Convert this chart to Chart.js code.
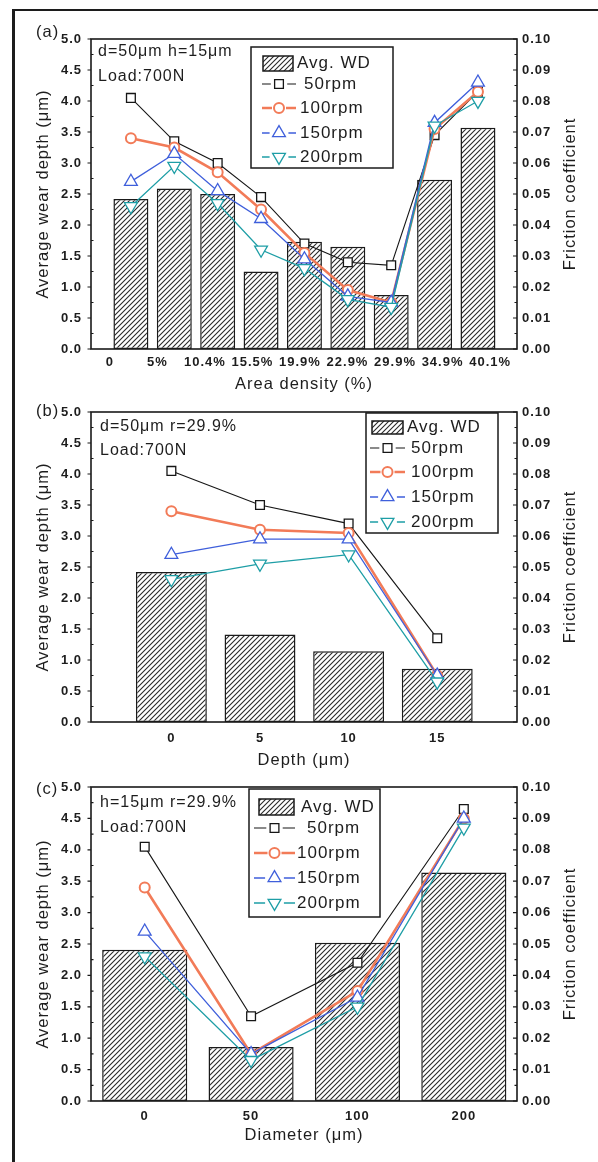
<!DOCTYPE html>
<html>
<head>
<meta charset="utf-8">
<script src="https://cdn.jsdelivr.net/npm/chart.js@4.4.1/dist/chart.umd.min.js"></script>
<style>
  html, body { margin: 0; padding: 0; background: #fff; }
  #page { position: relative; width: 598px; height: 1162px; overflow: hidden; background: #fff; }
  #frame { position: absolute; left: 12px; top: 9px; width: 700px; height: 1300px;
           border-left: 3px solid #1c1c1c; border-top: 2px solid #1c1c1c; }
  canvas { position: absolute; left: 0; top: 0; }
</style>
</head>
<body>
<div id="page">
  <div id="frame"></div>
  <canvas id="chartA" width="598" height="1162"></canvas>
  <canvas id="chartB" width="598" height="1162"></canvas>
  <canvas id="chartC" width="598" height="1162"></canvas>
</div>
<script>
// ---- data: (a) texture area density ----
const areaLabels = ['0', '5%', '10.4%', '15.5%', '19.9%', '22.9%', '29.9%', '34.9%', '40.1%'];
const areaWD     = [2.42, 2.59, 2.50, 1.25, 1.73, 1.65, 0.87, 2.73, 3.57];
const areaF50    = [0.081, 0.067, 0.060, 0.049, 0.034, 0.028, 0.027, 0.069, 0.083];
const areaF100   = [0.068, 0.065, 0.057, 0.045, 0.031, 0.019, 0.015, 0.071, 0.083];
const areaF150   = [0.054, 0.063, 0.051, 0.042, 0.029, 0.017, 0.015, 0.073, 0.086];
const areaF200   = [0.046, 0.059, 0.047, 0.032, 0.026, 0.016, 0.0135, 0.072, 0.080];

// ---- data: (b) dimple depth ----
const depthLabels = ['0', '5', '10', '15'];
const depthWD     = [2.42, 1.41, 1.14, 0.86];
const depthF50    = [0.081, 0.070, 0.064, 0.027];
const depthF100   = [0.068, 0.062, 0.061, 0.015];
const depthF150   = [0.054, 0.059, 0.059, 0.015];
const depthF200   = [0.046, 0.051, 0.054, 0.013];

// ---- data: (c) dimple diameter ----
const diamLabels = ['0', '50', '100', '200'];
const diamWD     = [2.41, 0.86, 2.52, 3.64];
const diamF50    = [0.081, 0.027, 0.044, 0.093];
const diamF100   = [0.068, 0.015, 0.035, 0.090];
const diamF150   = [0.054, 0.015, 0.033, 0.090];
const diamF200   = [0.046, 0.013, 0.030, 0.087];

const seriesNames = ['50rpm', '100rpm', '150rpm', '200rpm'];
const barName = 'Avg. WD';

// ---- styling ----
const FONT = '"Liberation Sans", Arial, sans-serif';
const TEXT = '#1d1d1d';
const AXIS = '#1a1a1a';
const SPACING = '1px';
const PLOT_LEFT = 91, PLOT_RIGHT = 517, PAGE_W = 598, PAGE_H = 1162;

const seriesStyle = [
  { color: '#161616', width: 1.1, pointStyle: 'rect',     radius: 6.2, rotation: 0,   pbw: 1.3 },
  { color: '#f27b58', width: 2.6, pointStyle: 'circle',   radius: 5.0, rotation: 0,   pbw: 2.0 },
  { color: '#3f5fdb', width: 1.3, pointStyle: 'triangle', radius: 7.4, rotation: 0,   pbw: 1.3 },
  { color: '#1e9ea6', width: 1.3, pointStyle: 'triangle', radius: 7.4, rotation: 180, pbw: 1.3 }
];

// diagonal hatch tile for the wear-depth bars
const hatchTile = (() => {
  const s = 5;
  const c = document.createElement('canvas');
  c.width = s; c.height = s;
  const g = c.getContext('2d');
  g.fillStyle = '#fff';
  g.fillRect(0, 0, s, s);
  g.strokeStyle = '#2a2a2a';
  g.lineWidth = 1.1;
  g.beginPath();
  g.moveTo(0, s); g.lineTo(s, 0);
  g.moveTo(-1, 1); g.lineTo(1, -1);
  g.moveTo(s - 1, s + 1); g.lineTo(s + 1, s - 1);
  g.stroke();
  return c;
})();

function setText(ctx, size, weight) {
  ctx.font = (weight || 'normal') + ' ' + size + 'px ' + FONT;
  ctx.fillStyle = TEXT;
}

// frame, tick marks, legend box, notes and right-hand title
const decor = {
  id: 'decor',
  beforeUpdate(chart) { chart.ctx.letterSpacing = SPACING; },
  beforeDraw(chart) { chart.ctx.letterSpacing = SPACING; },
  afterDatasetsDraw(chart, args, o) {
    const { ctx, chartArea: a, scales } = chart;
    ctx.save();
    ctx.letterSpacing = SPACING;

    // plot frame
    ctx.strokeStyle = AXIS;
    ctx.lineWidth = 1.6;
    ctx.strokeRect(a.left, a.top, a.right - a.left, a.bottom - a.top);

    // tick marks
    ctx.lineWidth = 1.2;
    ctx.beginPath();
    const y = scales.y, y2 = scales.y2;
    for (let k = 0; k <= 20; k++) {
      const p = y.getPixelForValue(k * 0.25);
      if (k % 2 === 0) { ctx.moveTo(a.left - 3.5, p); ctx.lineTo(a.left, p); }
      else { ctx.moveTo(a.left, p); ctx.lineTo(a.left + 2.5, p); }
      const q = y2.getPixelForValue(k * 0.005);
      ctx.moveTo(a.right - (k % 2 === 0 ? 4 : 2.5), q); ctx.lineTo(a.right, q);
    }
    ctx.stroke();

    // right axis title, reading bottom to top
    setText(ctx, 16.5);
    ctx.save();
    ctx.translate(o.rightTitleX, (a.top + a.bottom) / 2);
    ctx.rotate(-Math.PI / 2);
    ctx.textAlign = 'center';
    ctx.textBaseline = 'middle';
    ctx.fillText(o.rightTitle, 0, 0);
    ctx.restore();

    // panel tag and condition notes
    ctx.textAlign = 'left';
    ctx.textBaseline = 'middle';
    setText(ctx, 16.5);
    ctx.fillText(o.tag.text, o.tag.x, o.tag.y);
    setText(ctx, 16);
    o.notes.forEach(n => ctx.fillText(n.text, n.x, n.y));

    // legend
    const L = o.legend;
    ctx.fillStyle = '#fff';
    ctx.fillRect(L.box[0], L.box[1], L.box[2], L.box[3]);
    ctx.strokeStyle = AXIS;
    ctx.lineWidth = 1.5;
    ctx.strokeRect(L.box[0], L.box[1], L.box[2], L.box[3]);

    const ds = chart.data.datasets;
    ctx.fillStyle = ctx.createPattern(hatchTile, 'repeat');
    ctx.fillRect(L.hatch[0], L.hatch[1], L.hatch[2], L.hatch[3]);
    ctx.strokeRect(L.hatch[0], L.hatch[1], L.hatch[2], L.hatch[3]);
    setText(ctx, 17);
    ctx.fillText(ds[0].label, L.textX[0], L.rows[0]);

    for (let k = 1; k < ds.length; k++) {
      const d = ds[k];
      const cy = L.rows[k];
      const cx = (L.swatch[0] + L.swatch[1]) / 2;
      const r = d.pointRadius;
      ctx.strokeStyle = d.borderColor;
      ctx.lineWidth = d.borderWidth;
      ctx.beginPath();
      ctx.moveTo(L.swatch[0], cy); ctx.lineTo(cx - r - 2, cy);
      ctx.moveTo(cx + r + 2, cy); ctx.lineTo(L.swatch[1], cy);
      ctx.stroke();
      ctx.fillStyle = '#fff';
      ctx.lineWidth = d.pointBorderWidth;
      Chart.helpers.drawPoint(ctx, {
        pointStyle: d.pointStyle, rotation: d.pointRotation, radius: r, borderWidth: d.pointBorderWidth
      }, cx, cy);
      setText(ctx, 17);
      ctx.fillText(d.label, L.textX[k], cy);
    }
    ctx.restore();
  }
};

function buildPanel(canvasId, P) {
  const ctx = document.getElementById(canvasId).getContext('2d');
  const pattern = ctx.createPattern(hatchTile, 'repeat');
  const indexTicks = s => { s.ticks = P.cats.map((_, i) => ({ value: i })); };
  const datasets = [{
    type: 'bar', label: barName,
    data: P.wd.map((v, i) => ({ x: i, y: v })),
    xAxisID: 'x', yAxisID: 'y',
    backgroundColor: pattern, borderColor: AXIS, borderWidth: 1.5, borderSkipped: false,
    barPercentage: P.barPct, categoryPercentage: 1, order: 10
  }];
  P.friction.forEach((vals, k) => {
    const s = seriesStyle[k];
    datasets.push({
      type: 'line', label: seriesNames[k],
      data: vals.map((v, i) => ({ x: i, y: v })),
      xAxisID: 'x', yAxisID: 'y2',
      borderColor: s.color, borderWidth: s.width,
      pointStyle: s.pointStyle, pointRadius: s.radius, pointRotation: s.rotation,
      pointBorderWidth: s.pbw, pointBorderColor: s.color, pointBackgroundColor: '#fff',
      tension: 0, clip: false, order: 4 - k
    });
  });

  const tickFont = { family: FONT, size: 13, weight: 'bold' };
  const titleFont = { family: FONT, size: 16.5 };
  const noGrid = { display: false, drawTicks: false, offset: false };

  return new Chart(ctx, {
    type: 'bar',
    data: { datasets },
    plugins: [decor],
    options: {
      responsive: false,
      animation: false,
      devicePixelRatio: 1,
      layout: { padding: { top: P.plotTop, bottom: PAGE_H - P.boxBottom, left: 0, right: 0 } },
      plugins: {
        legend: { display: false },
        tooltip: { enabled: false },
        decor: {
          rightTitle: 'Friction coefficient', rightTitleX: 570,
          tag: P.tag, notes: P.notes, legend: P.legend
        }
      },
      scales: {
        x: { type: 'linear', display: false, offset: false, grid: noGrid, min: P.xMin, max: P.xMax, afterBuildTicks: indexTicks },
        xl: {
          type: 'linear', position: 'bottom', offset: false, min: P.lMin, max: P.lMax,
          afterBuildTicks: indexTicks,
          ticks: {
            callback: (v, i) => P.cats[i], autoSkip: false, maxRotation: 0, minRotation: 0,
            padding: P.tickPad, color: TEXT, font: tickFont
          },
          grid: noGrid, border: { display: false },
          title: { display: true, text: P.xTitle, color: TEXT, font: titleFont, padding: { top: 0, bottom: P.titlePad } },
          afterFit: s => { s.height = P.boxBottom - P.plotBottom; }
        },
        y: {
          position: 'left', min: 0, max: 5,
          ticks: { stepSize: 0.5, callback: v => v.toFixed(1), padding: 9, color: TEXT, font: tickFont },
          grid: noGrid, border: { display: false },
          title: { display: true, text: 'Average wear depth (μm)', color: TEXT, font: titleFont, padding: { top: 34, bottom: 0 } },
          afterFit: s => { s.width = PLOT_LEFT; }
        },
        y2: {
          position: 'right', min: 0, max: 0.1,
          ticks: { stepSize: 0.01, callback: v => v.toFixed(2), padding: 5, color: TEXT, font: tickFont },
          grid: noGrid, border: { display: false },
          afterFit: s => { s.width = PAGE_W - PLOT_RIGHT; }
        }
      }
    }
  });
}

buildPanel('chartA', {
  cats: areaLabels, wd: areaWD, friction: [areaF50, areaF100, areaF150, areaF200],
  plotTop: 39, plotBottom: 349, boxBottom: 400,
  xMin: -0.92, xMax: 8.9, lMin: -0.396, lMax: 8.566, barPct: 0.806,
  tickPad: 5.8, titlePad: 5.8, xTitle: 'Area density (%)',
  tag: { text: '(a)', x: 36, y: 32 },
  notes: [{ text: 'd=50μm h=15μm', x: 98, y: 52 }, { text: 'Load:700N', x: 98, y: 77 }],
  legend: { box: [251, 47, 142, 121], rows: [63, 84, 108, 133, 157], hatch: [263, 56, 30, 15],
            swatch: [262, 296], textX: [297, 304, 300, 300, 300] }
});

buildPanel('chartB', {
  cats: depthLabels, wd: depthWD, friction: [depthF50, depthF100, depthF150, depthF200],
  plotTop: 412, plotBottom: 722, boxBottom: 780,
  xMin: -0.907, xMax: 3.9, lMin: -0.907, lMax: 3.9, barPct: 0.8,
  tickPad: 8.8, titlePad: 9.8, xTitle: 'Depth (μm)',
  tag: { text: '(b)', x: 36, y: 411 },
  notes: [{ text: 'd=50μm r=29.9%', x: 100, y: 427 }, { text: 'Load:700N', x: 100, y: 451 }],
  legend: { box: [366, 413, 132, 120], rows: [427, 448, 472, 497, 522], hatch: [372, 421, 31, 13],
            swatch: [370, 405], textX: [407, 411, 411, 411, 411] }
});

buildPanel('chartC', {
  cats: diamLabels, wd: diamWD, friction: [diamF50, diamF100, diamF150, diamF200],
  plotTop: 787, plotBottom: 1101, boxBottom: 1155,
  xMin: -0.505, xMax: 3.5, lMin: -0.505, lMax: 3.5, barPct: 0.8,
  tickPad: 7.8, titlePad: 9.8, xTitle: 'Diameter (μm)',
  tag: { text: '(c)', x: 36, y: 789 },
  notes: [{ text: 'h=15μm r=29.9%', x: 100, y: 803 }, { text: 'Load:700N', x: 100, y: 828 }],
  legend: { box: [249, 789, 131, 128], rows: [807, 828, 853, 878, 903], hatch: [259, 799, 35, 16],
            swatch: [254, 295], textX: [301, 307, 297, 297, 297] }
});
</script>
</body>
</html>
